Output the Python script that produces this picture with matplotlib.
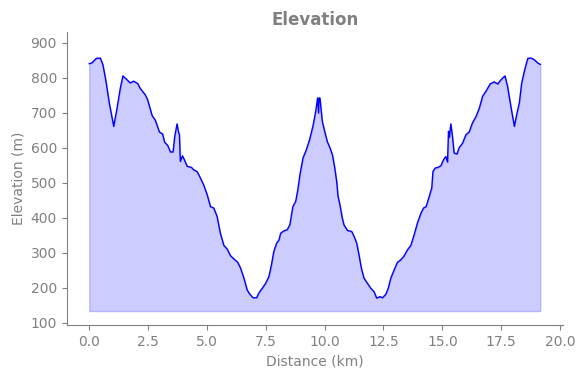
import matplotlib
matplotlib.use("Agg")
import matplotlib.pyplot as plt

# distance (km) and elevation (m)
distance_km = [
    0.0, 0.11, 0.30, 0.47, 0.58, 0.71, 0.85, 1.04, 1.18, 1.32, 1.43, 1.56, 1.74, 1.89,
    2.06, 2.17, 2.38, 2.48, 2.67, 2.81, 2.98, 3.12, 3.20, 3.33, 3.45, 3.56, 3.63, 3.73,
    3.79, 3.83, 3.87, 3.96, 4.04, 4.16, 4.34, 4.44, 4.58, 4.69, 4.86, 5.01, 5.15, 5.29,
    5.43, 5.57, 5.72, 5.86, 6.00, 6.14, 6.31, 6.43, 6.57, 6.71, 6.82, 6.96, 7.11, 7.20,
    7.35, 7.49, 7.63, 7.74, 7.84, 7.96, 8.06, 8.13, 8.27, 8.41, 8.52, 8.65, 8.77, 8.86,
    8.95, 9.08, 9.22, 9.36, 9.50, 9.62, 9.70, 9.74, 9.76, 9.80, 9.90, 10.00, 10.11, 10.23,
    10.33, 10.43, 10.51, 10.57, 10.65, 10.75, 10.82, 10.97, 11.15, 11.25, 11.36, 11.46,
    11.56, 11.67, 11.82, 11.96, 12.10, 12.21, 12.35, 12.46, 12.60, 12.70, 12.81, 12.95,
    13.09, 13.23, 13.37, 13.52, 13.66, 13.80, 13.94, 14.09, 14.20, 14.31, 14.44, 14.55,
    14.60, 14.69, 14.82, 14.94, 15.05, 15.15, 15.22, 15.26, 15.30, 15.36, 15.43, 15.50,
    15.62, 15.72, 15.86, 16.00, 16.14, 16.28, 16.43, 16.57, 16.71, 16.85, 17.03, 17.20,
    17.35, 17.49, 17.66, 17.77, 17.91, 18.06, 18.17, 18.27, 18.37, 18.51, 18.63, 18.77,
    18.91, 19.05, 19.16,
]
elevation_m = [
    840, 842, 855, 856, 837, 790, 728, 661, 713, 770, 805, 797, 785, 790,
    783, 769, 751, 737, 692, 678, 645, 639, 616, 607, 588, 588, 632, 668,
    645, 637, 561, 577, 566, 547, 544, 537, 532, 518, 494, 466, 432, 428,
    404, 356, 321, 311, 292, 283, 273, 256, 228, 194, 182, 172, 172, 185,
    199, 213, 232, 266, 304, 328, 337, 356, 363, 366, 380, 432, 447, 480,
    523, 571, 594, 623, 661, 704, 742, 699, 742, 742, 675, 647, 618, 599,
    580, 542, 504, 461, 437, 399, 380, 364, 361, 347, 328, 294,
    256, 228, 213, 199, 189, 171, 175, 172, 182, 199, 228, 251,
    273, 280, 291, 309, 321, 351, 385, 413, 428, 432, 461, 485,
    532, 542, 544, 549, 566, 575, 559, 647, 630, 668, 632, 585,
    582, 601, 613, 637, 645, 671, 689, 713, 747, 761, 782, 788,
    782, 794, 805, 775, 718, 661, 699, 728, 785, 826, 855, 856,
    851, 842, 838,
]
fill_base = 134

fig = plt.figure(figsize=(5.83, 3.78), dpi=100)
ax = fig.add_axes([0.1144, 0.140, 0.851, 0.776])

ax.plot(distance_km, elevation_m, color="blue", linewidth=1)
ax.fill_between(distance_km, elevation_m, fill_base, color="blue", alpha=0.2)

ax.set_ylim(94, 931)
ax.set_yticks([100, 200, 300, 400, 500, 600, 700, 800, 900])
ax.set_xticks([0, 2.5, 5, 7.5, 10, 12.5, 15, 17.5, 20])

grey = "gray"
ax.set_title("Elevation", color=grey, fontweight="bold", fontsize=12, pad=5)
ax.set_xlabel("Distance (km)", color=grey)
ax.set_ylabel("Elevation (m)", color=grey)
ax.tick_params(colors=grey)
for side in ["top", "right"]:
    ax.spines[side].set_visible(False)
for side in ["left", "bottom"]:
    ax.spines[side].set_color(grey)

fig.savefig("out.png", dpi=100)
